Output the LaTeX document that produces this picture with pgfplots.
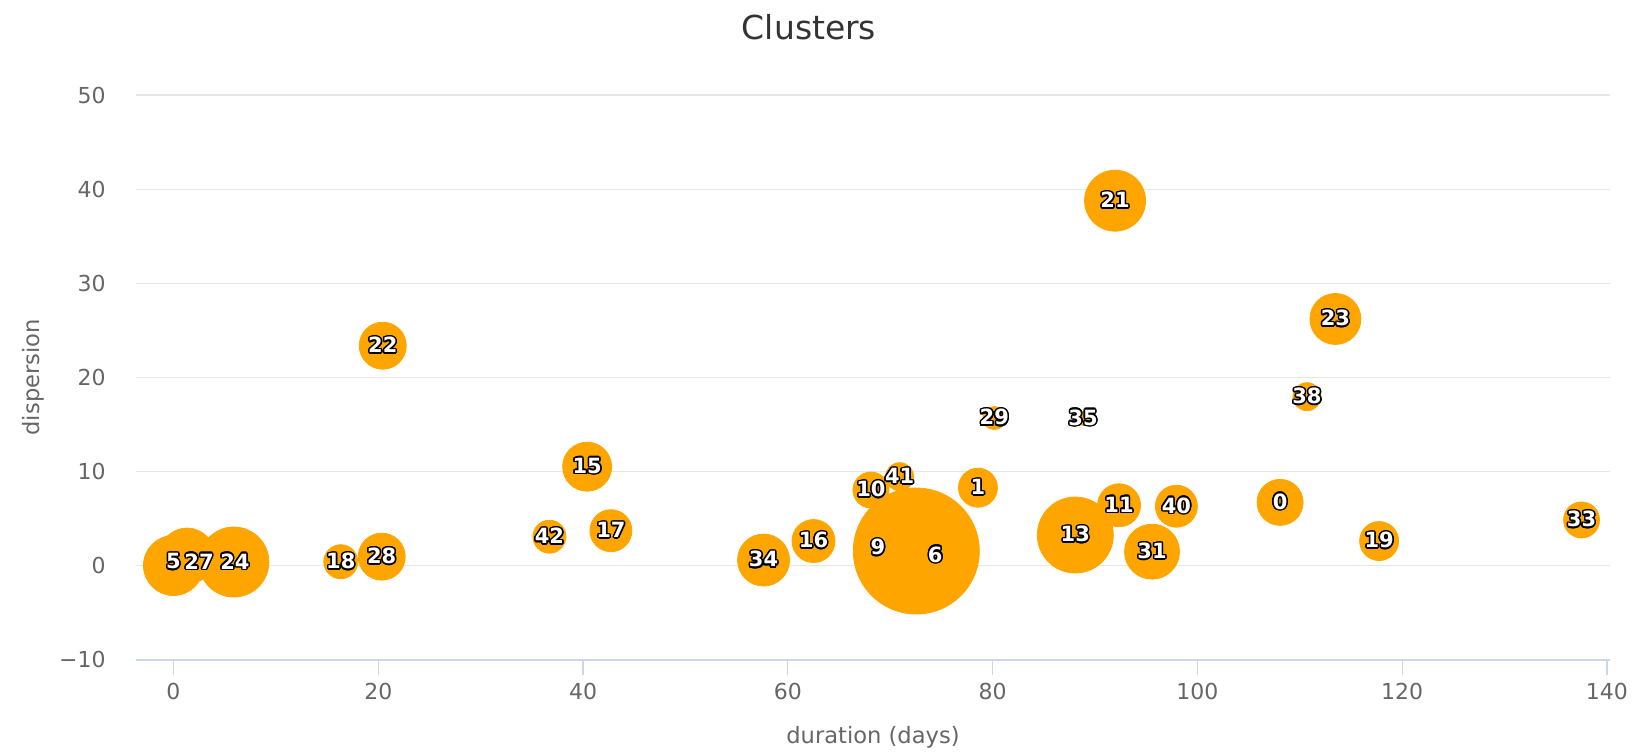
\documentclass[border=0pt]{standalone}
\usepackage{fontspec}
\setmainfont{DejaVu Sans}
\usepackage{pgfplots}
\pgfplotsset{compat=1.18}
\usepackage{pgfplotstable}
\usepackage{contour}
\contourlength{0.75pt}
\definecolor{bubble}{HTML}{FFA500}
\definecolor{gridc}{HTML}{E6E6E6}
\definecolor{axisc}{HTML}{CCD6EB}
\definecolor{txt}{HTML}{666666}
\definecolor{ttl}{HTML}{333333}

% x = duration, y = dispersion, r = bubble radius (pt)
\pgfplotstableread{
x      y      r
108.08 6.71   11.5
78.57  8.27   9.75
0.0    0.0    15
72.55  1.54   31.5
68.8   1.86   10
68.12  8.02   9
92.35  6.4    10.75
88.08  3.24   19
40.40  10.50  12.25
62.51  2.60   10.75
42.72  3.70   10.5
16.34  0.4    8.5
117.75 2.6    9.75
91.96  38.77  15.25
20.44  23.36  11.75
113.48 26.2   12.75
5.9    0.37   17.5
1.32   1.0    14
20.34  0.94   11.75
80.17  15.67  5.75
95.57  1.47   13.75
137.52 4.84   9
57.63  0.58   13
88.83  15.64  3.5
110.7  17.94  7
97.95  6.3    10.5
70.92  9.44   7
36.72  3.06   8.25
}\bubbles

\pgfplotstableread{
x      y      lab
108.08 6.71   0
78.57  8.27   1
0.0    0.37   5
74.4   1.1    6
68.8   1.86   9
68.12  8.02   10
92.35  6.4    11
88.08  3.24   13
40.40  10.50  15
62.51  2.60   16
42.72  3.70   17
16.34  0.4    18
117.75 2.6    19
91.96  38.77  21
20.44  23.36  22
113.48 26.2   23
6.0    0.37   24
2.5    0.37   27
20.34  0.94   28
80.17  15.67  29
95.57  1.47   31
137.52 4.84   33
57.63  0.58   34
88.83  15.64  35
110.7  17.94  38
97.95  6.3    40
70.92  9.44   41
36.72  3.06   42
}\labels

\begin{document}
\begin{tikzpicture}
\path[use as bounding box] (0,0) rectangle (819.5pt,375.5pt);
\begin{axis}[
  at={(68pt,45.7pt)}, anchor=south west,
  scale only axis, width=737pt, height=282.3pt,
  xmin=-3.66, xmax=140.3, ymin=-10, ymax=50,
  xtick={0,20,...,140},
  ytick={-10,0,10,20,30,40,50},
  yticklabels={−10,0,10,20,30,40,50},
  /pgf/number format/assume math mode=true,
  axis lines*=left,
  x axis line style={axisc, line width=1pt},
  y axis line style={draw=none},
  ytick style={draw=none},
  xtick style={axisc, line width=0.6pt},
  tick align=outside,
  major tick length=7.5pt,
  ymajorgrids,
  grid style={gridc, line width=0.6pt},
  ticklabel style={font=\fontsize{11}{13}\selectfont, text=txt},
  xticklabel style={yshift=-1pt},
  yticklabel style={xshift=-4.2pt},
  xlabel={duration (days)},
  ylabel={dispersion},
  xlabel style={at={(axis description cs:0.5,0)}, anchor=center, yshift=-39pt, font=\fontsize{11.3}{13}\selectfont, text=txt},
  ylabel style={at={(axis description cs:0,0.5)}, anchor=center, rotate=0, yshift=51.25pt, font=\fontsize{11.3}{13}\selectfont, text=txt},
  title={Clusters},
  title style={at={(axis description cs:0.4566,1)}, anchor=center, yshift=28pt, font=\fontsize{16.5}{18}\selectfont, text=ttl},
  clip=false,
]
\addplot[scatter, only marks, mark=*,
  scatter/use mapped color={draw=bubble, fill=bubble},
  visualization depends on={\thisrow{r} \as \rad},
  scatter/@pre marker code/.append style={/tikz/mark size=\rad pt}]
  table[x=x, y=y] {\bubbles};
\addplot[only marks, mark=none, draw=none,
  point meta=explicit symbolic,
  nodes near coords={\contour{black}{\pgfplotspointmeta}},
  nodes near coords style={anchor=center, inner sep=0pt, text=white, font=\bfseries\fontsize{10.5}{12}\selectfont}]
  table[x=x, y=y, meta=lab] {\labels};
\end{axis}
\end{tikzpicture}
\end{document}
